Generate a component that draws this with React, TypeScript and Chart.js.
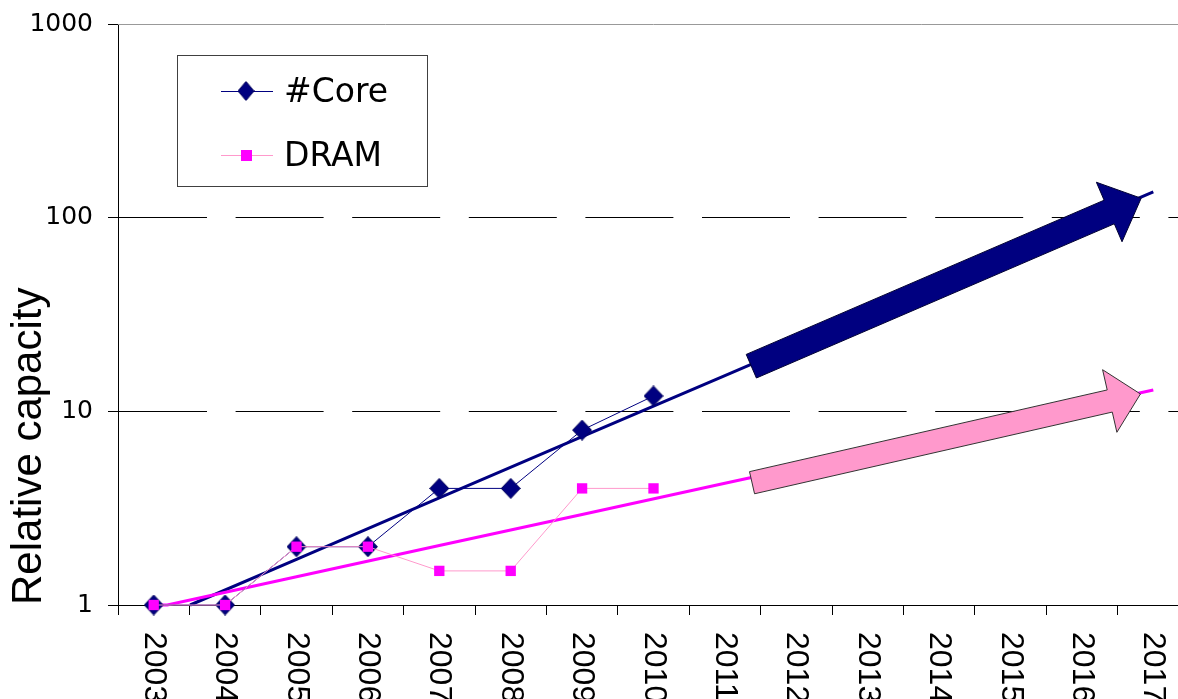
import React, { useEffect, useRef } from 'react';
import { Chart, registerables } from 'chart.js';

Chart.register(...registerables);

// ---- data ----
const years = [2003, 2004, 2005, 2006, 2007, 2008, 2009, 2010, 2011, 2012, 2013, 2014, 2015, 2016, 2017];
const xTickLabels = years.map(String);
const tickBoundaries = [2002.5, 2003.5, 2004.5, 2005.5, 2006.5, 2007.5, 2008.5, 2009.5, 2010.5, 2011.5, 2012.5, 2013.5, 2014.5, 2015.5, 2016.5, 2017.5];
const yTickValues = [1, 10, 100, 1000];

const dataYears = [2003, 2004, 2005, 2006, 2007, 2008, 2009, 2010];
const coreValues = [1, 1, 2, 2, 4, 4, 8, 12];
const dramValues = [1, 1, 2, 2, 1.5, 1.5, 4, 4];

const coreTrendYears = [2003.51, 2005, 2007, 2009, 2011, 2013, 2015, 2017];
const coreTrendValues = [1, 1.72, 3.57, 7.4, 15.3, 31.7, 65.7, 136];
const dramTrendYears = [2003, 2003.19, 2005, 2007, 2009, 2011, 2013, 2015, 2017];
const dramTrendValues = [1, 1, 1.4, 2.03, 2.93, 4.25, 6.15, 8.9, 12.9];

// arrow annotations: [year, value] of tail and tip
const coreArrowFrom = [2011.37, 17.1];
const coreArrowTo = [2016.83, 126];
const dramArrowFrom = [2011.38, 4.28];
const dramArrowTo = [2016.82, 12.29];

const NAVY = '#000080';
const MAGENTA = '#FF00FF';
const PINK_LINE = '#FF99CC';
const PINK_ARROW = '#FF99CC';

function makeDiamond(w: number, h: number): HTMLCanvasElement {
  const c = document.createElement('canvas');
  c.width = w;
  c.height = h;
  const g = c.getContext('2d')!;
  g.beginPath();
  g.moveTo(w / 2, 0.5);
  g.lineTo(w - 0.5, h / 2);
  g.lineTo(w / 2, h - 0.5);
  g.lineTo(0.5, h / 2);
  g.closePath();
  g.fillStyle = NAVY;
  g.fill();
  g.strokeStyle = '#00005a';
  g.lineWidth = 1;
  g.stroke();
  return c;
}

function drawArrow(
  ctx: CanvasRenderingContext2D,
  x0: number, y0: number, x1: number, y1: number,
  shaftW: number, headW: number, headL: number,
  fill: string, stroke: string
) {
  const dx = x1 - x0, dy = y1 - y0;
  const len = Math.hypot(dx, dy);
  const ux = dx / len, uy = dy / len;
  const px = -uy, py = ux;
  const bx = x1 - ux * headL, by = y1 - uy * headL;
  const pts = [
    [x0 + px * shaftW, y0 + py * shaftW],
    [bx + px * shaftW, by + py * shaftW],
    [bx + px * headW, by + py * headW],
    [x1, y1],
    [bx - px * headW, by - py * headW],
    [bx - px * shaftW, by - py * shaftW],
    [x0 - px * shaftW, y0 - py * shaftW],
  ];
  ctx.save();
  ctx.beginPath();
  ctx.moveTo(pts[0][0], pts[0][1]);
  for (let i = 1; i < pts.length; i++) ctx.lineTo(pts[i][0], pts[i][1]);
  ctx.closePath();
  ctx.fillStyle = fill;
  ctx.fill();
  ctx.strokeStyle = stroke;
  ctx.lineWidth = 1;
  ctx.stroke();
  ctx.restore();
}

export default function App() {
  const ref = useRef<HTMLCanvasElement>(null);

  useEffect(() => {
    const canvas = ref.current!;
    const diamond = makeDiamond(20, 21);
    const legendDiamond = makeDiamond(17, 20);

    const overlay = {
      id: 'overlay',
      beforeDatasetsDraw(chart: any) {
        const { ctx, chartArea } = chart;
        const y = chart.scales.y;
        const yTop = Math.round(y.getPixelForValue(1000)) + 0.5;
        ctx.save();
        ctx.strokeStyle = '#999999';
        ctx.lineWidth = 1;
        ctx.beginPath();
        ctx.moveTo(chartArea.left, yTop);
        ctx.lineTo(chartArea.right, yTop);
        ctx.stroke();
        ctx.restore();
      },
      afterDatasetsDraw(chart: any) {
        const { ctx } = chart;
        const x = chart.scales.x;
        const y = chart.scales.y;
        drawArrow(
          ctx,
          x.getPixelForValue(coreArrowFrom[0]), y.getPixelForValue(coreArrowFrom[1]),
          x.getPixelForValue(coreArrowTo[0]), y.getPixelForValue(coreArrowTo[1]),
          12.85, 32.4, 34.8, NAVY, '#000033'
        );
        drawArrow(
          ctx,
          x.getPixelForValue(dramArrowFrom[0]), y.getPixelForValue(dramArrowFrom[1]),
          x.getPixelForValue(dramArrowTo[0]), y.getPixelForValue(dramArrowTo[1]),
          11.35, 32.1, 31.5, PINK_ARROW, '#333333'
        );
      },
      afterDraw(chart: any) {
        const { ctx, chartArea } = chart;
        const x = chart.scales.x;
        // rotated x labels (reading top to bottom)
        ctx.save();
        ctx.font = '32px "Liberation Sans"';
        ctx.fillStyle = '#000';
        ctx.textAlign = 'left';
        ctx.textBaseline = 'middle';
        years.forEach((yr, i) => {
          const px = x.getPixelForValue(yr);
          ctx.save();
          ctx.translate(px, chartArea.bottom + 27);
          ctx.rotate(Math.PI / 2);
          ctx.fillText(xTickLabels[i], 0, 0);
          ctx.restore();
        });
        ctx.restore();

        // legend box
        ctx.save();
        ctx.fillStyle = '#ffffff';
        ctx.fillRect(177.5, 55.5, 250, 131);
        ctx.strokeStyle = '#404040';
        ctx.lineWidth = 1;
        ctx.strokeRect(177.5, 55.5, 250, 131);

        ctx.strokeStyle = NAVY;
        ctx.beginPath();
        ctx.moveTo(221, 91.5);
        ctx.lineTo(273, 91.5);
        ctx.stroke();
        ctx.drawImage(legendDiamond, 246 - 8.5, 91 - 10);

        ctx.strokeStyle = PINK_LINE;
        ctx.beginPath();
        ctx.moveTo(221, 155.5);
        ctx.lineTo(273, 155.5);
        ctx.stroke();
        ctx.fillStyle = MAGENTA;
        ctx.fillRect(241, 150, 11, 11);

        ctx.fillStyle = '#000';
        ctx.font = '33px "DejaVu Sans"';
        ctx.textAlign = 'left';
        ctx.textBaseline = 'middle';
        ctx.fillText('#Core', 284, 93);
        ctx.fillText('DRAM', 284, 157);
        ctx.restore();
      },
    };

    const chart = new Chart(canvas, {
      type: 'line',
      data: {
        datasets: [
          {
            label: 'DRAM',
            data: dataYears.map((yr, i) => ({ x: yr, y: dramValues[i] })),
            borderColor: PINK_LINE,
            borderWidth: 1,
            pointStyle: 'rect',
            pointRadius: 7.3,
            pointBackgroundColor: MAGENTA,
            pointBorderColor: MAGENTA,
            pointBorderWidth: 0,
            clip: false,
            order: 0,
          },
          {
            label: '#Core',
            data: dataYears.map((yr, i) => ({ x: yr, y: coreValues[i] })),
            borderColor: NAVY,
            borderWidth: 1,
            pointStyle: diamond,
            pointRadius: 10,
            clip: false,
            order: 1,
          },
          {
            label: 'DRAM trend',
            data: dramTrendYears.map((yr, i) => ({ x: yr, y: dramTrendValues[i] })),
            borderColor: MAGENTA,
            borderWidth: 3,
            pointRadius: 0,
            clip: false,
            order: 2,
          },
          {
            label: 'Core trend',
            data: coreTrendYears.map((yr, i) => ({ x: yr, y: coreTrendValues[i] })),
            borderColor: NAVY,
            borderWidth: 3,
            pointRadius: 0,
            clip: false,
            order: 3,
          },
        ] as any,
      },
      options: {
        responsive: false,
        animation: false,
        events: [],
        layout: { padding: { top: 24, right: 8.4, bottom: 0, left: 0 } },
        plugins: {
          legend: { display: false },
          tooltip: { enabled: false },
        },
        scales: {
          x: {
            type: 'linear',
            min: 2002.5,
            max: 2017.5,
            afterBuildTicks: (s: any) => {
              s.ticks = tickBoundaries.map((v) => ({ value: v }));
            },
            afterFit: (s: any) => {
              s.height = 94;
              s.paddingLeft = 0;
              s.paddingRight = 0;
            },
            ticks: { display: false },
            grid: {
              drawOnChartArea: false,
              drawTicks: true,
              tickLength: 10,
              tickColor: '#000',
              color: '#000',
            },
            border: { display: true, color: '#000', width: 1 },
          },
          y: {
            type: 'logarithmic',
            min: 1,
            max: 1000,
            afterBuildTicks: (s: any) => {
              s.ticks = yTickValues.map((v) => ({ value: v }));
            },
            afterFit: (s: any) => {
              s.width = 118;
              s.paddingTop = 0;
              s.paddingBottom = 0;
            },
            ticks: {
              font: { family: 'DejaVu Sans', size: 25 },
              color: '#000',
              padding: 15,
              callback: (v: any) => String(v),
            },
            grid: {
              color: (c: any) =>
                c.tick && (c.tick.value === 10 || c.tick.value === 100) ? '#000' : 'rgba(0,0,0,0)',
              tickColor: '#000',
              tickLength: 10,
              lineWidth: 1,
            },
            border: { display: true, color: '#000', width: 1, dash: [88, 28.6] },
            title: {
              display: true,
              text: 'Relative capacity',
              align: 'start',
              color: '#000',
              font: { family: 'Liberation Sans', size: 42 },
              padding: { top: 4, bottom: 0 },
            },
          },
        },
      } as any,
      plugins: [overlay],
    });

    return () => chart.destroy();
  }, []);

  return (
    <div
      style={{
        position: 'absolute',
        left: 0,
        top: 0,
        width: 1178,
        height: 699,
        overflow: 'hidden',
        background: '#fff',
      }}
    >
      <canvas ref={ref} width={1200} height={699} style={{ display: 'block' }} />
    </div>
  );
}
